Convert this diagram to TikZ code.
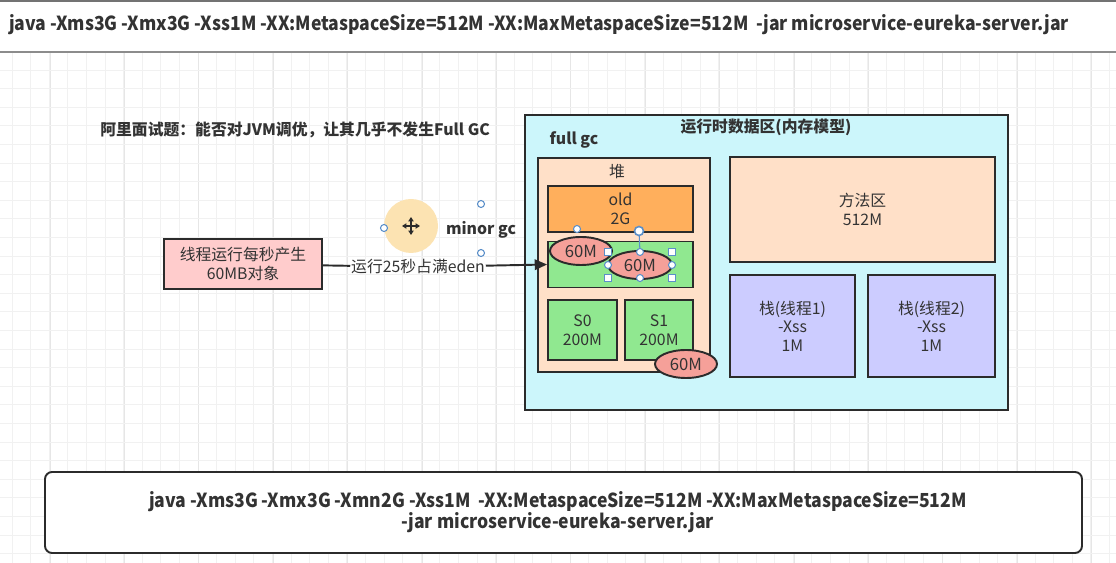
\documentclass[tikz,border=0pt]{standalone}
\usepackage{fontspec}
\setmainfont{Noto Sans CJK SC}
\usetikzlibrary{arrows.meta,shapes.geometric}

\definecolor{boxline}{HTML}{2B2B2B}
\definecolor{txt}{HTML}{333333}
\definecolor{runtimefill}{HTML}{CCF6FB}
\definecolor{peach}{HTML}{FFE0C8}
\definecolor{oldfill}{HTML}{FFAF5C}
\definecolor{greenfill}{HTML}{90E890}
\definecolor{stackfill}{HTML}{CCCCFF}
\definecolor{pinkfill}{HTML}{FFCCCC}
\definecolor{objfill}{HTML}{F5A099}
\definecolor{movefill}{HTML}{FCE3B2}
\definecolor{handleblue}{HTML}{5B8FC9}
\definecolor{gridminor}{HTML}{F1F1F1}
\definecolor{gridmajor}{HTML}{E6E6E6}

\newcommand{\squeeze}[1]{\scalebox{0.91}[1]{#1}}

\begin{document}
\begin{tikzpicture}[x=0.02cm,y=-0.02cm,
  wh/.style 2 args={minimum width=#1*0.02cm, minimum height=#2*0.02cm},
  box/.style={draw=boxline, line width=1.1pt, align=center, text=txt,
    font=\fontsize{9}{10.5}\selectfont, inner sep=0pt},
  obj/.style={ellipse, draw=boxline, line width=1.1pt, fill=objfill, text=txt,
    font=\fontsize{9.5}{10.5}\selectfont, inner sep=0pt},
  title/.style={font=\fontsize{9}{11}\selectfont\bfseries, text=txt, inner sep=0pt},
  cmdtext/.style={font=\fontsize{11}{12}\selectfont\bfseries, text=txt, inner sep=0pt, align=center},
  handle/.style={draw=handleblue, fill=white, line width=0.6pt},
  link/.style={draw=boxline, line width=1.1pt}]
\useasboundingbox (0,0) rectangle (1116,563);

% grid
\foreach \i in {0,...,59}
  \draw[gridminor, line width=0.4pt] ({12+18.6*\i},52) -- ({12+18.6*\i},563);
\foreach \i in {0,...,14}
  \draw[gridmajor, line width=0.5pt] ({50+74.4*\i},52) -- ({50+74.4*\i},563);
\foreach \j in {0,...,26}
  \draw[gridminor, line width=0.4pt] (0,{70+18.6*\j}) -- (1116,{70+18.6*\j});

% top bar
\fill[white] (0,0) rectangle (1116,52);
\draw[black!55, line width=1.2pt] (0,1) -- (1116,1);
\draw[black!45, line width=1.2pt] (0,52) -- (1116,52);
\node[cmdtext] (cmdold) at (539,25) {\squeeze{java -Xms3G -Xmx3G -Xss1M -XX:MetaspaceSize=512M -XX:MaxMetaspaceSize=512M ~-jar microservice-eureka-server.jar}};

\node[title, anchor=west] (question) at (100,130) {阿里面试题：能否对JVM调优，让其几乎不发生Full GC};

% runtime data area
\node[box, fill=runtimefill, wh={483}{295}] (runtime) at (766.5,262.5) {};
\node[title] (runtimelbl) at (766,127) {运行时数据区(内存模型)};
\node[title] (fullgc) at (574,140) {full gc};

\node[box, fill=peach, wh={172}{214}] (heap) at (624,265) {};
\node[box, draw=none] (heaplbl) at (617,172) {堆};
\node[box, fill=oldfill, wh={145}{46}] (old) at (620.5,209) {old\\2G};
\node[box, fill=greenfill, wh={145}{46}] (eden) at (620.5,264.5) {};
\node[box, fill=greenfill, wh={69}{60}] (s0) at (582.5,330) {S0\\200M};
\node[box, fill=greenfill, wh={68}{60}] (s1) at (659,330) {S1\\200M};

\node[box, fill=peach, wh={265}{105}] (method) at (862.5,209.5) {方法区\\512M};
\node[box, fill=stackfill, wh={125}{102}] (stack1) at (792.5,326) {栈(线程1)\\-Xss\\1M};
\node[box, fill=stackfill, wh={127}{102}] (stack2) at (931.5,326) {栈(线程2)\\-Xss\\1M};

% objects
\node[obj, wh={62}{28}] (obj1) at (581,251) {60M};
\node[obj, wh={64}{28}] (obj2) at (640,265) {60M};
\node[obj, wh={62}{28}] (obj3) at (686,364) {60M};

% thread
\node[box, fill=pinkfill, wh={158}{50}] (thread) at (243,264) {线程运行每秒产生\\60MB对象};
\node[box, draw=none] (fill25) at (418,267) {运行25秒占满eden};
\draw[link] (thread) -- (fill25);
\draw[link, -{Triangle[length=7pt,width=6pt]}] (fill25) -- (eden.west);

% minor gc
\fill[movefill] (411,226) circle (27);
\draw[boxline, line width=0.7pt, {Triangle[length=2.5pt,width=3pt]}-{Triangle[length=2.5pt,width=3pt]}] (402,226) -- (420,226);
\draw[boxline, line width=0.7pt, {Triangle[length=2.5pt,width=3pt]}-{Triangle[length=2.5pt,width=3pt]}] (411,217) -- (411,235);
\node[title] (minorgc) at (481,230) {minor gc};
\draw[handle] (384,228) circle (3.5);
\draw[handle] (481,204) circle (3.5);
\draw[handle] (481,253) circle (3.5);

% selection handles
\draw[handleblue, line width=0.6pt] (639,231) -- (640,252);
\draw[handle] (577,229) circle (3.5);
\draw[handle, line width=0.9pt] (639,231) circle (4.5);
\foreach \hx/\hy in {608/252,672/252,608/278,672/278}
  \draw[handle] (\hx-3.5,\hy-3.5) rectangle (\hx+3.5,\hy+3.5);
\foreach \hx/\hy in {640/252,608/265,672/265,640/278}
  \draw[handle] (\hx,\hy) circle (3.5);

% bottom command
\node[box, fill=white, rounded corners=4pt, wh={1037}{81}] (cmdnew) at (563.5,512.5) {};
\node[cmdtext] (cmdnewtext) at (558,512) {\squeeze{java -Xms3G -Xmx3G -Xmn2G -Xss1M ~-XX:MetaspaceSize=512M -XX:MaxMetaspaceSize=512M}\\\squeeze{-jar microservice-eureka-server.jar}};
\end{tikzpicture}
\end{document}
